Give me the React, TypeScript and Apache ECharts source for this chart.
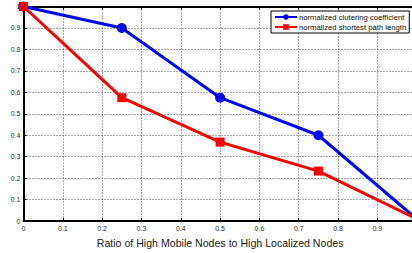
import React, { useEffect, useRef } from "react";
import * as echarts from "echarts";

const ratios = [0, 0.25, 0.5, 0.75, 1];
const clustering = [1, 0.9, 0.575, 0.4, 0.01];
const shortestPath = [1, 0.575, 0.368, 0.233, 0.01];
const seriesNames = ["normalized clutering coefficient", "normalized shortest path length"];
const xTitle = "Ratio of High Mobile Nodes to High Localized Nodes";

export default function App() {
  const ref = useRef<HTMLDivElement>(null);
  useEffect(() => {
    if (!ref.current) return;
    const chart = echarts.init(ref.current, undefined, { renderer: "svg" });
    const font = "Liberation Sans, Arial, sans-serif";
    const axisCommon = {
      type: "value" as const,
      min: 0,
      max: 1,
      interval: 0.1,
      axisLine: { show: true, onZero: false, lineStyle: { color: "#000", width: 2 } },
      axisTick: { show: true, inside: true, length: 3, lineStyle: { color: "#000" } },
      splitLine: { show: true, lineStyle: { color: "#555", type: [1, 2], width: 1 } },
      axisLabel: {
        fontSize: 7,
        color: "#333",
        fontFamily: font,
        formatter: (v: number) => (Math.abs(v - 1) < 1e-9 ? "1" : String(Math.round(v * 10) / 10)),
      },
    };
    chart.setOption({
      animation: false,
      textStyle: { fontFamily: font },
      grid: { left: 23.5, right: 3.3, top: 6.5, bottom: 26.3, containLabel: false },
      legend: {
        orient: "vertical",
        left: 271,
        top: 11,
        backgroundColor: "#fff",
        borderColor: "#000",
        borderWidth: 1,
        borderRadius: 0,
        padding: [2, 3, 2, 3],
        itemGap: 2,
        itemWidth: 22,
        itemHeight: 7,
        textStyle: { fontSize: 7.7, color: "#111", fontFamily: font, padding: [0, 0, 0, -3] },
        data: seriesNames,
      },
      xAxis: [
        {
          ...axisCommon,
          position: "bottom",
          name: xTitle,
          nameLocation: "middle",
          nameGap: 14,
          nameTextStyle: { fontSize: 10.6, color: "#222", fontFamily: font },
          axisLabel: { ...axisCommon.axisLabel, margin: 4, showMaxLabel: false },
        },
        {
          ...axisCommon,
          position: "top",
          axisLabel: { show: false },
          splitLine: { show: false },
        },
      ],
      yAxis: [
        {
          ...axisCommon,
          position: "left",
          axisLabel: { ...axisCommon.axisLabel, margin: 3 },
        },
        {
          ...axisCommon,
          position: "right",
          axisLabel: { show: false },
          splitLine: { show: false },
        },
      ],
      series: [
        {
          name: seriesNames[0],
          type: "line",
          data: ratios.map((r, i) => [r, clustering[i]]),
          symbol: "circle",
          symbolSize: 10,
          lineStyle: { color: "#0000ff", width: 3 },
          itemStyle: { color: "#0000ff" },
          z: 3,
        },
        {
          name: seriesNames[1],
          type: "line",
          data: ratios.map((r, i) => [r, shortestPath[i]]),
          symbol: "rect",
          symbolSize: 9,
          lineStyle: { color: "#ff0000", width: 3 },
          itemStyle: { color: "#ff0000" },
          z: 4,
        },
      ],
    });
    return () => chart.dispose();
  }, []);
  return (
    <div style={{ position: "fixed", left: 0, top: 0, width: 412, height: 253, overflow: "hidden", background: "#fff" }}>
      <div ref={ref} style={{ width: 420, height: 253 }} />
    </div>
  );
}
